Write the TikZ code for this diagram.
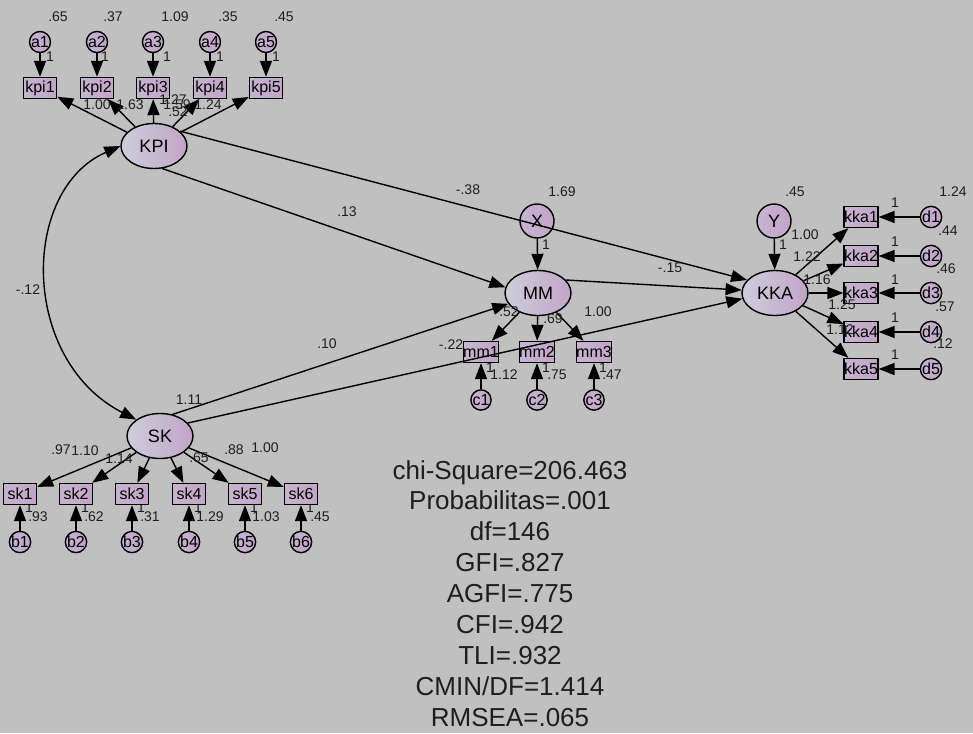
\documentclass[tikz,border=0pt]{standalone}
\usepackage{fontspec}
\setmainfont{Liberation Sans}
\usetikzlibrary{shapes.geometric,arrows.meta}

\definecolor{bggray}{RGB}{192,192,192}
\definecolor{shadeL}{RGB}{204,206,218}
\definecolor{shadeR}{RGB}{194,164,200}
\definecolor{txtgray}{RGB}{30,30,30}

\tikzset{
  latent/.style={ellipse, draw, line width=1.4pt, minimum width=66pt, minimum height=45pt,
    inner sep=0pt, left color=shadeL, right color=shadeR, font=\fontsize{18}{18}\selectfont},
  indic/.style={rectangle, draw, line width=1.4pt, minimum width=33pt, minimum height=21pt,
    inner sep=0pt, left color=shadeL!40!shadeR, right color=shadeR, font=\fontsize{16}{16}\selectfont},
  err/.style={circle, draw, line width=1.4pt, minimum size=20pt, inner sep=0pt,
    left color=shadeL!40!shadeR, right color=shadeR, font=\fontsize{16}{16}\selectfont},
  arr/.style={-{Triangle[length=16pt,width=12pt]}, line width=1.4pt},
  covar/.style={{Triangle[length=16pt,width=12pt]}-{Triangle[length=16pt,width=12pt]}, line width=1.4pt},
  est/.style={font=\fontsize{14}{14}\selectfont, text=txtgray, inner sep=0pt},
}

\begin{document}
\begin{tikzpicture}[x=1pt, y=-1pt]
  % Background
  \fill[bggray] (0,0) rectangle (973,733);
  \useasboundingbox (0,0) rectangle (973,733);

  % Unit weights hidden under the boxes
  \foreach \x [count=\i] in {481,537,594} \node[est] (wc\i) at (\x+9,368) {1};
  \foreach \x [count=\i] in {20,76,132,189,245,301} \node[est] (wb\i) at (\x+9,508) {1};

  % KPI and its indicators
  \node[latent] (KPI) at (154,146) {KPI};
  \foreach \x [count=\i] in {40,97,153,210,266} {
    \node[indic] (kpi\i) at (\x,88) {kpi\i};
    \node[err] (a\i) at (\x,42) {a\i};
  }

  % MM with its disturbance and indicators
  \node[latent] (MM) at (538,293) {MM};
  \node[err, minimum size=34pt, font=\fontsize{18}{18}\selectfont] (X) at (537,221) {X};
  \foreach \x [count=\i] in {481,537,594} {
    \node[indic] (mm\i) at (\x,352) {mm\i};
    \node[err] (c\i) at (\x,400) {c\i};
  }

  % KKA with its disturbance and indicators
  \node[latent] (KKA) at (775,293) {KKA};
  \node[err, minimum size=34pt, font=\fontsize{18}{18}\selectfont] (Y) at (774,221) {Y};
  \foreach \y [count=\i] in {217,256,293,332,369} {
    \node[indic] (kka\i) at (861,\y) {kka\i};
    \node[err] (d\i) at (931,\y) {d\i};
  }

  % SK and its indicators
  \node[latent] (SK) at (160,436) {SK};
  \foreach \x [count=\i] in {20,76,132,189,245,301} {
    \node[indic] (sk\i) at (\x,494) {sk\i};
    \node[err] (b\i) at (\x,542) {b\i};
  }

  % Measurement paths
  \foreach \i in {1,...,5} {
    \draw[arr] (a\i) -- (kpi\i);
    \draw[arr] (KPI) -- (kpi\i);
    \draw[arr] (d\i) -- (kka\i);
    \draw[arr] (KKA) -- (kka\i);
  }
  \foreach \i in {1,2,3} {
    \draw[arr] (c\i) -- (mm\i);
    \draw[arr] (MM) -- (mm\i);
  }
  \foreach \i in {1,...,6} {
    \draw[arr] (b\i) -- (sk\i);
    \draw[arr] (SK) -- (sk\i);
  }

  % Structural paths
  \draw[covar] (KPI.west) .. controls (20,190) and (20,360) .. (SK.north west);
  \draw[arr] (KPI.-70) -- (MM.170);
  \draw[arr] (KPI.30) -- (KKA.155);
  \draw[arr] (SK.60) -- (MM.200);
  \draw[arr] (SK.25) -- (KKA.190);
  \draw[arr] (MM.25) -- (KKA.175);
  \draw[arr] (X) -- (MM);
  \draw[arr] (Y) -- (KKA);

  % Estimates: KPI block
  \foreach \v/\x [count=\i] in {.65/58,.37/113,1.09/175,.35/228,.45/284} {
    \node[est] (va\i) at (\x,17) {\v};
    \node[est] (wa\i) at (\x-8,57) {1};
  }
  \foreach \v/\x/\y [count=\i] in {1.00/97/105,1.63/130/105,1.27/173/100,1.59/177/105,1.24/208/105} {
    \node[est] (lkpi\i) at (\x,\y) {\v};
  }
  \node[est] (vKPI) at (178,112) {.52};

  % Estimates: structural
  \node[est] (rKS) at (28,290) {-.12};
  \node[est] (bKM) at (347,212) {.13};
  \node[est] (bKK) at (468,190) {-.38};
  \node[est] (bSM) at (327,344) {.10};
  \node[est] (bSK) at (451,345) {-.22};
  \node[est] (bMK) at (670,268) {-.15};
  \node[est] (vSK) at (189,400) {1.11};

  % Estimates: MM block
  \node[est] (vX) at (562,192) {1.69};
  \node[est] (wX) at (546,245) {1};
  \foreach \v/\x/\y [count=\i] in {.52/509/312,.69/553/319,1.00/598/312} {
    \node[est] (lmm\i) at (\x,\y) {\v};
  }
  \foreach \v/\x [count=\i] in {1.12/504,.75/557,.47/612} {
    \node[est] (vc\i) at (\x,375) {\v};
  }

  % Estimates: KKA block
  \node[est] (vY) at (795,192) {.45};
  \node[est] (wY) at (783,245) {1};
  \foreach \v/\x/\y [count=\i] in {1.00/805/235,1.22/807/257,1.16/817/280,1.25/842/305,1.12/840/330} {
    \node[est] (lkka\i) at (\x,\y) {\v};
  }
  \foreach \v/\x/\y [count=\i] in {1.24/953/192,.44/948/231,.46/946/269,.57/945/307,.12/943/344} {
    \node[est] (vd\i) at (\x,\y) {\v};
    \node[est] (wd\i) at (895,\y+11) {1};
  }

  % Estimates: SK block
  \foreach \v/\x/\y [count=\i] in {.97/61/450,1.10/85/451,1.14/119/459,.65/199/458,.88/234/450,1.00/265/448} {
    \node[est] (lsk\i) at (\x,\y) {\v};
  }
  \foreach \v/\x [count=\i] in {.93/38,.62/94,.31/150,1.29/210,1.03/266,.45/320} {
    \node[est] (vb\i) at (\x,517) {\v};
  }

  % Fit indices
  \node[anchor=north, align=center, inner sep=0pt, text=txtgray,
    font=\fontsize{26}{30.9}\selectfont] (fit) at (510,460)
    {chi-Square=206.463\\Probabilitas=.001\\df=146\\GFI=.827\\AGFI=.775\\CFI=.942\\TLI=.932\\CMIN/DF=1.414\\RMSEA=.065};
\end{tikzpicture}
\end{document}
